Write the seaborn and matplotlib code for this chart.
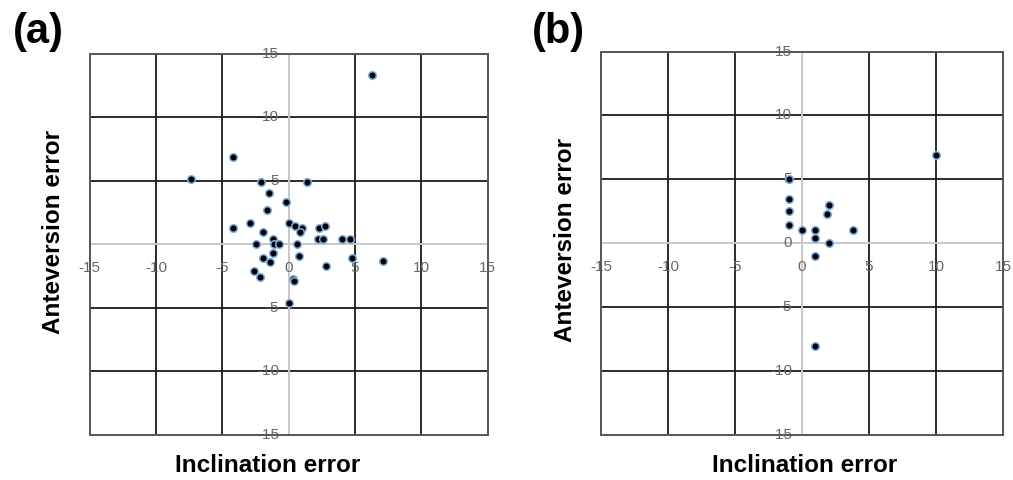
import matplotlib
matplotlib.use('Agg')
import matplotlib.pyplot as plt
import seaborn as sns
import pandas as pd

sns.set_style('white')
plt.rcParams['font.family'] = ['Liberation Sans', 'DejaVu Sans']

# panel (a): inclination / anteversion errors
a_incl = [-4.2, -7.4, -2.1, 1.4, -1.5, -0.2, -1.6, -4.2, -2.9, 0.05, 0.5, 1.0, 0.85,
          2.3, 2.7, -1.9, 2.2, 2.6, 4.0, 4.6, -2.5, -1.2, -1.1, -0.7, 0.6, -1.2,
          -1.9, -1.4, 0.8, 4.8, 7.1, 2.8, -2.6, -2.2, 0.3, 0.4, 0.0, 6.3]
a_ante = [6.9, 5.1, 4.9, 4.9, 4.0, 3.3, 2.7, 1.3, 1.7, 1.7, 1.4, 1.3, 1.0,
          1.3, 1.4, 1.0, 0.4, 0.4, 0.4, 0.4, 0.0, 0.4, 0.0, 0.0, 0.0, -0.7,
          -1.1, -1.4, -0.9, -1.1, -1.3, -1.7, -2.1, -2.6, -2.7, -2.9, -4.6, 13.3]

# panel (b)
b_incl = [10.0, -1.0, -1.0, -1.0, -1.0, 0.0, 1.0, 1.0, 2.0, 1.9, 2.0, 3.8, 1.0, 1.0]
b_ante = [6.9, 5.0, 3.5, 2.5, 1.4, 1.0, 1.0, 0.4, 3.0, 2.3, 0.0, 1.0, -1.0, -8.0]

tick_vals = [-15, -10, -5, 0, 5, 10, 15]
grid_vals = [-10, -5, 5, 10]

W, H = 1013, 480
fig = plt.figure(figsize=(W / 100, H / 100), dpi=100)


def px_ax(left, top, right, bottom):
    return fig.add_axes([left / W, 1 - bottom / H, (right - left) / W, (bottom - top) / H])


def draw_panel(ax, xs, ys):
    df = pd.DataFrame({'incl': xs, 'ante': ys})
    ax.set_xlim(-15, 15)
    ax.set_ylim(-15, 15)
    for v in grid_vals:
        ax.axvline(v, color='#1a1a1a', lw=1.3, zorder=1)
        ax.axhline(v, color='#1a1a1a', lw=1.3, zorder=1)
    ax.axvline(0, color='#c8c8c8', lw=1.4, zorder=1)
    ax.axhline(0, color='#c8c8c8', lw=1.4, zorder=1)
    for v in tick_vals:
        ax.annotate(str(v), (v, 0), xytext=(0, -17), textcoords='offset points',
                    ha='center', va='center', fontsize=11, color='#666666', zorder=2)
        ax.annotate(str(v), (0, v), xytext=(-7, 0), textcoords='offset points',
                    ha='right', va='center', fontsize=11, color='#666666', zorder=2)
    sns.scatterplot(data=df, x='incl', y='ante', ax=ax, color='black', s=30,
                    edgecolor='#7fb0e0', linewidth=1.1, zorder=3)
    ax.set_xticks([])
    ax.set_yticks([])
    ax.set_xlabel('')
    ax.set_ylabel('')
    for sp in ax.spines.values():
        sp.set_color('#555555')
        sp.set_linewidth(1.4)
        sp.set_visible(True)


ax_a = px_ax(89.7, 53.5, 487.7, 435)
ax_b = px_ax(601, 51.5, 1003, 435)
draw_panel(ax_a, a_incl, a_ante)
draw_panel(ax_b, b_incl, b_ante)

lab = dict(fontsize=17.5, fontweight='bold', color='black', ha='center', va='center')
fig.text(268 / W, 1 - 466 / H, 'Inclination error', **lab)
fig.text(805 / W, 1 - 466 / H, 'Inclination error', **lab)
fig.text(54 / W, 1 - 232 / H, 'Anteversion error', rotation=90, **lab)
fig.text(566 / W, 1 - 240 / H, 'Anteversion error', rotation=90, **lab)

fig.text(13 / W, 1 - 32 / H, '(a)', fontsize=30, fontweight='bold', color='black',
         va='center', ha='left')
fig.text(532 / W, 1 - 32 / H, '(b)', fontsize=30, fontweight='bold', color='black',
         va='center', ha='left')

fig.savefig('out.png', dpi=100)
